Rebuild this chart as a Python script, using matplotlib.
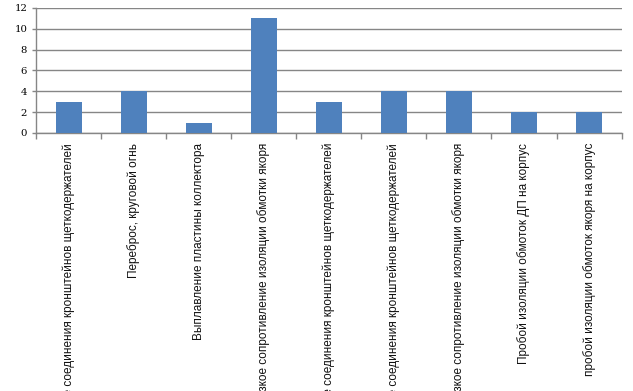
import numpy as np
import matplotlib
matplotlib.use('Agg')
import matplotlib.pyplot as plt

# categories (full names, bottom part gets cut off by the figure edge like in the original)
categories = [
    'Нарушение соединения кронштейнов щеткодержателей',
    'Переброс, круговой огнь',
    'Выплавление пластины коллектора',
    'Низкое сопротивление изоляции обмотки якоря',
    'Ослабление соединения кронштейнов щеткодержателей',
    'Нарушение соединения кронштейнов щеткодержателей',
    'Низкое сопротивление изоляции обмотки якоря',
    'Пробой изоляции обмоток ДП на корпус',
    'пробой изоляции обмоток якоря на корпус',
]
counts = [3, 4, 1, 11, 3, 4, 4, 2, 2]
yticks = [0, 2, 4, 6, 8, 10, 12]

W, H = 633, 391
fig = plt.figure(figsize=(W / 100, H / 100), dpi=100)
# axes box in pixels: left 36, right 621.6, top 8, bottom 133
ax = fig.add_axes([36 / W, (H - 133) / H, (621.6 - 36) / W, (133 - 8) / H])

gray = '#868686'
x = np.arange(len(categories))
ax.bar(x, counts, width=0.4, color='#4F81BD', zorder=3)

ax.set_xlim(-0.5, len(categories) - 0.5)
ax.set_ylim(0, 12)
ax.set_yticks(yticks)
ax.set_yticklabels([str(v) for v in yticks], fontfamily='DejaVu Serif', fontsize=7.3)
ax.yaxis.grid(True, color=gray, linewidth=1, zorder=0)
ax.tick_params(axis='y', length=3, width=1, color=gray, pad=3.4)

ax.set_xticks(x)
ax.set_xticklabels(categories, rotation=90, fontfamily='Liberation Sans',
                   fontsize=8.5, va='top', ha='center', color='#111111')
ax.tick_params(axis='x', length=0, pad=7.2)
ax.set_xticks(np.arange(-0.5, len(categories), 1), minor=True)
ax.tick_params(axis='x', which='minor', length=4, width=1, color=gray)

for s in ['top', 'right']:
    ax.spines[s].set_visible(False)
for s in ['left', 'bottom']:
    ax.spines[s].set_color(gray)
    ax.spines[s].set_linewidth(1)

fig.savefig('out.png', dpi=100)
